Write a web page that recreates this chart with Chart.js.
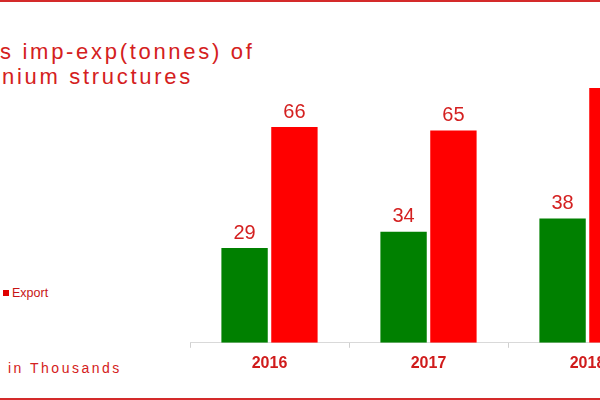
<!DOCTYPE html>
<html>
<head>
<meta charset="utf-8">
<script src="https://cdn.jsdelivr.net/npm/chart.js@4/dist/chart.umd.min.js"></script>
<style>
  html, body { margin: 0; padding: 0; }
  body {
    width: 600px; height: 400px; overflow: hidden; position: relative;
    background: #fff; font-family: "Liberation Sans", Arial, sans-serif;
  }
  .frame {
    position: absolute; left: 0; top: 0; width: 600px; height: 396px;
    border-top: 2px solid #d42a2a; border-bottom: 2px solid #d42a2a;
  }
  .title {
    position: absolute; left: 0; top: 39px; color: #d42020;
    font-size: 22px; letter-spacing: 2.7px; line-height: 25px; white-space: nowrap;
  }
  .title .l2 { padding-left: 2px; }
  .legend {
    position: absolute; left: 3px; top: 286px; color: #c81414; font-size: 12.5px;
  }
  .legend i {
    display: inline-block; width: 6px; height: 6px; background: #e00000;
    margin-right: 3px; vertical-align: 1px;
  }
  .unit {
    position: absolute; left: 8px; top: 360px; color: #d42020;
    font-size: 14px; letter-spacing: 2.5px; white-space: nowrap;
  }
  #wrap { position: absolute; left: 190px; top: 0; width: 477px; height: 400px; }
</style>
</head>
<body>
<div class="frame"></div>
<div class="title"><div>s imp-exp(tonnes) of</div><div class="l2">nium structures</div></div>
<div class="legend"><i></i>Export</div>
<div class="unit">in Thousands</div>
<div id="wrap"><canvas id="chart"></canvas></div>
<script>
const years = ['2016', '2017', '2018'];
const importValues = [29, 34, 38];
const exportValues = [66, 65, 78];

const valueLabels = {
  id: 'valueLabels',
  afterDatasetsDraw(chart) {
    const ctx = chart.ctx;
    ctx.save();
    ctx.font = '20px "Liberation Sans", Arial, sans-serif';
    ctx.fillStyle = '#d42020';
    ctx.textAlign = 'center';
    ctx.textBaseline = 'bottom';
    chart.data.datasets.forEach((ds, i) => {
      chart.getDatasetMeta(i).data.forEach((bar, j) => {
        ctx.fillText(ds.data[j], bar.x, bar.y - 5);
      });
    });
    ctx.restore();
  }
};

new Chart(document.getElementById('chart'), {
  type: 'bar',
  data: {
    labels: years,
    datasets: [
      { label: 'Import', data: importValues, backgroundColor: '#008000' },
      { label: 'Export', data: exportValues, backgroundColor: '#ff0000' }
    ]
  },
  options: {
    responsive: true,
    maintainAspectRatio: false,
    animation: false,
    categoryPercentage: 0.627,
    barPercentage: 0.93,
    layout: { padding: { top: 16, bottom: 21, left: 0, right: 0 } },
    plugins: { legend: { display: false }, tooltip: { enabled: false } },
    scales: {
      x: {
        grid: { drawOnChartArea: false, color: '#d0d0d0', tickLength: 5 },
        border: { color: '#d9d9d9' },
        ticks: {
          color: '#d01c1c',
          font: { family: '"Liberation Sans", Arial, sans-serif', size: 16, weight: 'bold' },
          padding: 6
        }
      },
      y: { display: false, min: 0, max: 100 }
    }
  },
  plugins: [valueLabels]
});
</script>
</body>
</html>
